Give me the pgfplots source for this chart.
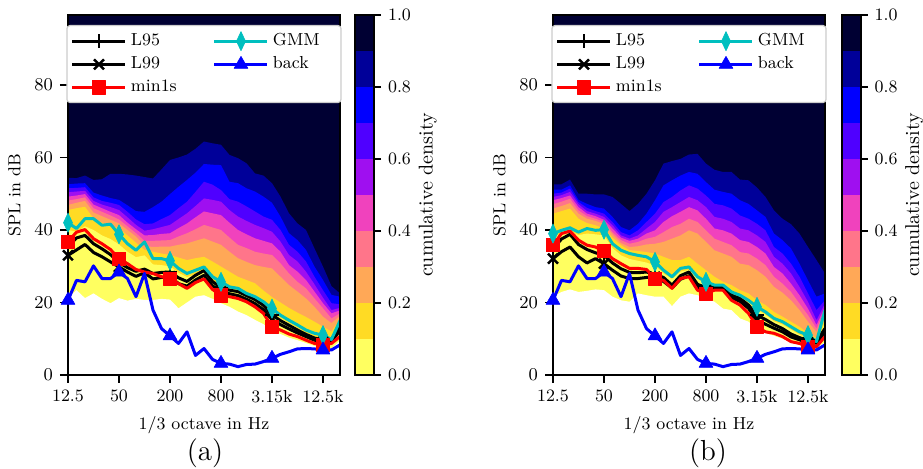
\documentclass[border=0pt]{standalone}
\usepackage{pgfplots}
\pgfplotsset{compat=1.18}
\usepackage{pgfplotstable}
\newcommand\fs{\fontsize{8.7}{10.4}\selectfont}
\definecolor{c0}{rgb}{1,1,0.375}
\definecolor{c1}{rgb}{1,0.86,0.14}
\definecolor{c2}{rgb}{1,0.66,0.34}
\definecolor{c3}{rgb}{1,0.46,0.54}
\definecolor{c4}{rgb}{0.94,0.26,0.74}
\definecolor{c5}{rgb}{0.625,0.06,0.94}
\definecolor{c6}{rgb}{0.31,0,1}
\definecolor{c7}{rgb}{0,0,1}
\definecolor{c8}{rgb}{0,0,0.6}
\definecolor{c9}{rgb}{0,0,0.2}
\definecolor{gmm}{rgb}{0,0.75,0.75}

% contour boundaries, panel (a)
\pgfplotstableread{
i B9 B8 B7 B6 B5 B4 B3 B2 B1 B0
0 54.4 52.6 51.5 50.4 49.2 48.1 46.9 45.5 40.0 21.2
1 54.3 52.8 51.6 50.6 49.5 48.5 47.5 46.0 39.5 23.4
2 55.0 52.9 51.8 50.8 49.9 49.0 48.0 46.4 41.0 21.2
3 53.8 50.3 49.0 48.0 47.0 46.0 44.8 43.2 40.0 22.5
4 54.0 49.5 48.0 47.0 46.0 45.0 43.8 42.0 38.5 21.0
5 55.5 48.8 47.5 46.3 45.0 44.0 42.8 41.2 37.5 19.8
6 55.5 48.3 46.9 45.5 44.1 42.9 41.8 40.5 36.0 21.2
7 55.3 46.8 45.0 43.5 42.0 41.0 40.0 38.5 34.0 20.5
8 55.0 45.2 42.9 41.4 40.2 39.1 38.2 36.5 32.5 21.0
9 54.6 45.0 41.6 39.8 38.5 37.0 35.6 34.5 33.0 20.7
10 54.2 46.3 41.8 40.2 38.6 37.0 35.3 34.0 30.5 20.7
11 56.7 47.8 43.0 40.8 38.9 37.1 35.4 33.5 30.3 21.0
12 59.3 49.9 44.1 41.4 39.1 37.2 35.4 33.1 30.0 20.8
13 60.0 51.9 46.0 43.0 40.5 38.2 35.9 32.4 28.2 18.4
14 60.8 53.8 47.8 44.6 41.8 39.1 36.3 31.7 27.0 20.0
15 62.4 55.8 50.5 46.6 43.5 40.2 37.0 32.2 27.8 21.6
16 64.4 58.2 53.3 48.7 45.1 41.4 37.7 32.6 28.5 22.0
17 63.9 58.0 52.5 48.3 44.6 40.7 36.8 31.3 26.0 21.0
18 63.5 57.9 51.0 47.8 44.1 40.0 35.9 29.9 24.7 19.8
19 60.7 53.3 48.5 45.5 42.0 37.9 34.0 28.5 23.4 18.8
20 59.8 52.9 47.8 43.7 40.0 35.9 32.2 27.1 23.0 17.5
21 58.4 51.5 46.5 42.5 38.8 35.0 31.2 26.2 21.6 16.5
22 55.6 50.6 45.1 41.4 37.7 34.0 30.3 25.3 20.7 15.2
23 55.0 49.2 43.7 40.5 37.0 33.5 29.8 23.3 19.3 14.0
24 52.9 47.5 42.8 39.5 36.3 33.1 29.4 21.5 17.5 12.2
25 49.2 43.7 40.0 36.8 34.0 30.8 27.1 20.0 15.7 11.3
26 44.6 39.1 35.9 33.1 30.3 28.0 24.8 18.5 14.3 10.3
27 41.8 37.2 34.0 31.3 28.5 25.7 23.0 17.2 13.0 9.6
28 40.0 34.5 31.3 28.5 26.2 23.9 21.1 16.0 11.6 8.8
29 34.9 29.9 27.1 25.0 23.0 21.1 18.8 14.7 10.7 8.0
30 29.9 26.2 23.4 21.3 19.8 18.4 16.1 13.3 9.7 7.3
31 24.5 22.1 19.8 17.9 17.0 15.6 14.3 12.0 8.5 7.3
32 22.5 21.6 19.5 18.5 17.8 17.0 16.3 15.5 13.5 9.5
}\CA

% contour boundaries, panel (b)
\pgfplotstableread{
i B9 B8 B7 B6 B5 B4 B3 B2 B1 B0
0 52.6 51.1 50.0 49.1 48.2 47.1 45.9 44.5 38.0 21.6
1 52.6 51.1 50.3 49.6 48.8 47.8 46.6 45.2 39.0 22.9
2 53.9 52.3 51.4 50.5 49.5 48.6 47.4 45.9 39.8 23.6
3 50.0 48.3 47.7 47.1 46.3 45.4 44.5 43.1 38.6 22.9
4 50.0 47.2 46.1 45.2 44.5 43.8 43.1 41.9 39.0 23.2
5 49.8 46.3 45.2 44.5 43.8 43.1 42.5 41.3 38.8 23.6
6 49.8 45.9 44.5 43.6 42.8 42.2 41.6 40.4 38.5 23.4
7 49.1 43.6 42.2 41.3 40.4 39.4 38.8 37.9 35.0 21.6
8 47.2 40.8 39.4 38.5 37.9 37.2 36.4 35.8 33.0 20.6
9 45.2 39.9 38.5 37.6 37.0 36.2 35.3 34.4 32.0 20.2
10 47.2 41.7 39.9 38.5 37.6 36.7 35.5 34.2 31.5 22.5
11 50.0 44.5 42.2 40.4 39.0 37.6 36.0 33.9 31.0 22.0
12 53.7 48.2 44.5 42.2 39.9 38.1 36.2 33.5 30.2 21.6
13 58.3 52.3 47.7 45.0 42.2 39.4 36.7 32.6 28.0 21.6
14 59.0 53.7 49.1 46.3 43.8 40.8 37.6 31.7 26.5 19.0
15 59.6 55.0 50.9 47.7 45.0 41.7 38.5 31.7 28.5 21.6
16 60.8 56.0 52.3 49.1 46.3 43.1 39.9 32.6 29.0 22.5
17 61.0 55.5 51.4 48.2 45.4 42.2 39.0 30.7 26.5 22.0
18 58.3 53.2 49.5 46.3 43.1 39.9 36.7 28.9 25.0 21.1
19 56.6 51.1 47.2 43.6 40.4 37.6 34.4 27.1 24.2 20.2
20 56.0 50.5 46.8 43.1 39.9 36.7 33.5 25.7 24.0 18.3
21 56.0 50.0 45.9 42.2 39.0 35.8 32.6 24.8 22.3 17.9
22 53.9 48.2 44.0 40.4 37.2 33.9 30.7 23.4 21.3 15.6
23 53.7 47.2 43.1 39.9 36.7 33.5 30.3 22.5 20.0 14.7
24 51.7 45.4 41.7 38.5 35.3 32.1 28.9 20.6 18.0 12.6
25 49.1 43.6 39.9 36.7 33.5 30.3 27.1 19.3 16.6 11.6
26 45.4 39.0 35.3 32.6 29.8 27.1 24.3 17.4 14.8 10.8
27 43.1 37.2 33.5 30.7 28.0 25.2 22.7 16.1 13.9 10.0
28 41.6 34.9 30.7 28.0 25.2 22.9 20.6 14.7 12.5 9.0
29 39.0 30.7 27.1 24.3 22.0 19.7 17.9 13.3 11.1 8.5
30 35.3 26.1 22.5 20.2 18.3 16.5 14.7 11.5 10.2 7.6
31 31.7 21.6 17.9 15.1 13.8 12.8 11.9 10.1 8.4 7.5
32 28.0 22.5 20.6 19.7 18.8 17.9 17.0 15.6 14.5 9.0
}\CB

% lines, panel (a)
\pgfplotstableread{
i L95 L99 min GMM back
0 35.5 33.0 36.8 42.0 20.6
1 37.8 34.5 39.4 40.4 26.1
2 38.5 36.0 40.1 43.1 25.7
3 36.2 33.8 37.6 43.1 30.1
4 34.8 32.6 36.2 41.3 26.6
5 33.2 31.2 34.6 41.6 26.6
6 31.0 29.8 32.1 38.8 28.4
7 29.6 28.4 30.7 36.2 26.6
8 28.6 27.2 29.1 34.4 21.6
9 29.2 28.2 28.4 36.7 28.0
10 28.0 26.5 28.0 32.1 17.9
11 28.3 26.9 27.1 32.1 12.8
12 28.4 27.2 26.6 31.5 10.8
13 26.8 25.2 25.2 29.4 8.7
14 25.8 24.5 23.9 28.0 11.9
15 27.5 26.2 25.5 28.9 5.4
16 28.8 27.5 26.5 29.8 7.3
17 25.8 24.6 23.6 27.1 4.3
18 24.0 23.0 22.0 25.7 3.2
19 23.4 22.4 21.6 24.3 3.0
20 23.0 21.9 21.1 23.9 2.3
21 21.9 20.9 20.2 22.5 2.9
22 20.8 19.7 18.8 21.6 3.0
23 19.2 18.0 17.0 20.2 3.7
24 16.6 15.3 13.3 18.3 4.6
25 15.0 13.9 12.4 16.5 5.7
26 13.7 12.7 11.3 15.1 6.4
27 12.4 11.6 10.6 13.8 7.2
28 11.2 10.6 9.6 12.4 7.3
29 10.2 9.6 8.7 11.5 7.2
30 9.6 9.1 8.3 11.0 6.9
31 9.9 9.3 8.7 9.8 6.9
32 13.2 12.2 10.6 15.0 8.3
}\LA

% lines, panel (b)
\pgfplotstableread{
i L95 L99 min GMM back
0 34.8 32.1 35.8 39.0 20.6
1 37.5 34.0 39.0 39.9 26.1
2 38.8 35.3 39.7 40.6 25.7
3 36.0 32.6 37.2 39.4 30.1
4 34.6 30.9 35.8 40.4 26.6
5 33.7 32.1 35.3 39.9 26.6
6 33.0 30.7 34.2 40.1 28.4
7 30.9 28.9 32.1 36.2 26.6
8 29.3 27.3 30.7 34.4 21.6
9 28.3 26.6 29.4 33.5 28.0
10 28.2 26.6 29.4 33.0 17.9
11 28.4 26.9 29.1 32.6 12.8
12 27.8 27.1 26.6 31.2 10.8
13 26.9 25.8 26.1 28.9 8.7
14 24.8 24.0 23.9 27.1 11.9
15 27.4 26.4 26.6 29.4 5.4
16 28.4 27.4 27.1 29.8 7.3
17 25.0 24.2 23.4 27.1 4.3
18 24.1 23.4 22.5 25.7 3.2
19 24.4 23.6 23.4 24.8 3.0
20 24.3 23.6 23.4 24.8 2.3
21 22.0 21.3 20.6 22.9 2.9
22 21.1 20.3 19.3 22.0 3.0
23 19.3 18.4 17.0 20.6 3.7
24 16.5 15.1 13.3 18.8 4.6
25 15.3 14.0 11.9 17.4 5.7
26 13.9 12.9 11.5 15.6 6.4
27 12.8 11.9 10.6 14.7 7.2
28 11.3 10.5 9.2 13.3 7.3
29 10.3 9.7 8.7 11.9 7.2
30 9.6 9.0 7.8 11.0 6.9
31 9.3 8.8 7.8 9.2 6.9
32 12.8 11.8 10.6 17.9 8.3
}\LB

\pgfplotsset{
  pl95/.style={black, line width=1.5pt, line join=round, mark=+, mark size=3.5pt, mark repeat=6, mark options={line width=1.2pt}},
  pl99/.style={black, line width=1.5pt, line join=round, mark=x, mark size=3.5pt, mark repeat=6, mark options={line width=1.2pt}},
  pmin/.style={red, line width=1.5pt, line join=round, mark=square*, mark size=3.3pt, mark repeat=6, mark options={line width=0.3pt}},
  pgmm/.style={gmm, line width=1.5pt, line join=round, mark=diamond*, mark size=3pt, mark repeat=6, mark options={line width=0.3pt, yscale=1.6}},
  pback/.style={blue, line width=1.5pt, line join=round, mark=triangle*, mark size=4pt, mark repeat=6, mark options={line width=0.3pt}},
  mainax/.style={
    anchor=south west, scale only axis, width=136pt, height=180pt,
    xmin=0, xmax=32, ymin=0, ymax=99.3,
    xtick={0,6,12,18,24,30}, xticklabels={12.5,50,200,800,3.15k,12.5k},
    ytick={0,20,40,60,80},
    tick align=outside, tick pos=left, major tick length=4pt,
    every tick/.style={black, line width=0.8pt},
    axis line style={line width=0.9pt},
    axis background/.style={fill=c9},
    tick label style={font=\fs},
    label style={font=\fs},
    xlabel={1/3 octave in Hz}, ylabel={SPL in dB},
    axis on top,
    legend columns=2,
    legend cell align=left,
    legend style={at={(0.5,1)}, anchor=north, yshift=-5pt, draw=black!20, line width=0.6pt,
      rounded corners=1.5pt, fill=white, font=\fs, inner xsep=2pt, inner ysep=2pt,
      row sep=0pt, /tikz/every even column/.append style={column sep=4pt}},
    legend image code/.code={\draw[mark repeat=2,mark phase=2,##1] plot coordinates {(0pt,0pt)(13.25pt,0pt)(26.5pt,0pt)};},
  },
  cbar/.style={
    anchor=south west, scale only axis, width=9.5pt, height=180pt,
    xmin=0, xmax=1, ymin=0, ymax=1, xtick=\empty,
    ytick={0,0.2,0.4,0.6,0.8,1}, yticklabels={0.0,0.2,0.4,0.6,0.8,1.0},
    ytick pos=right, yticklabel pos=right, tick align=outside, major tick length=3.5pt,
    every tick/.style={black, line width=0.8pt},
    axis line style={line width=0.9pt},
    tick label style={font=\fs}, label style={font=\fs},
    ylabel={cumulative density}, ylabel near ticks,
    ylabel style={yshift=3pt},
    axis on top,
  },
}

\newcommand\contourfill[1]{%
  \addplot[fill=c8, draw=none, forget plot] table[x=i, y=B9]{#1} \closedcycle;
  \addplot[fill=c7, draw=none, forget plot] table[x=i, y=B8]{#1} \closedcycle;
  \addplot[fill=c6, draw=none, forget plot] table[x=i, y=B7]{#1} \closedcycle;
  \addplot[fill=c5, draw=none, forget plot] table[x=i, y=B6]{#1} \closedcycle;
  \addplot[fill=c4, draw=none, forget plot] table[x=i, y=B5]{#1} \closedcycle;
  \addplot[fill=c3, draw=none, forget plot] table[x=i, y=B4]{#1} \closedcycle;
  \addplot[fill=c2, draw=none, forget plot] table[x=i, y=B3]{#1} \closedcycle;
  \addplot[fill=c1, draw=none, forget plot] table[x=i, y=B2]{#1} \closedcycle;
  \addplot[fill=c0, draw=none, forget plot] table[x=i, y=B1]{#1} \closedcycle;
  \addplot[fill=white, draw=none, forget plot] table[x=i, y=B0]{#1} \closedcycle;
}
\newcommand\linesplot[1]{%
  \addplot[pl95, forget plot] table[x=i, y=L95]{#1};
  \addplot[pl99, forget plot] table[x=i, y=L99]{#1};
  \addplot[pmin, forget plot] table[x=i, y=min]{#1};
  \addplot[pgmm, forget plot] table[x=i, y=GMM]{#1};
  \addplot[pback, forget plot] table[x=i, y=back]{#1};
  \addlegendimage{pl95}\addlegendentry{\makebox[35pt][l]{L95}}
  \addlegendimage{pgmm}\addlegendentry{\makebox[30pt][l]{GMM}}
  \addlegendimage{pl99}\addlegendentry{\makebox[35pt][l]{L99}}
  \addlegendimage{pback}\addlegendentry{\makebox[30pt][l]{back}}
  \addlegendimage{pmin}\addlegendentry{\makebox[35pt][l]{min1s}}
}
\newcommand\cbarfill{%
  \addplot[fill=c9, draw=none] coordinates {(0,1)(1,1)} \closedcycle;
  \addplot[fill=c8, draw=none] coordinates {(0,0.9)(1,0.9)} \closedcycle;
  \addplot[fill=c7, draw=none] coordinates {(0,0.8)(1,0.8)} \closedcycle;
  \addplot[fill=c6, draw=none] coordinates {(0,0.7)(1,0.7)} \closedcycle;
  \addplot[fill=c5, draw=none] coordinates {(0,0.6)(1,0.6)} \closedcycle;
  \addplot[fill=c4, draw=none] coordinates {(0,0.5)(1,0.5)} \closedcycle;
  \addplot[fill=c3, draw=none] coordinates {(0,0.4)(1,0.4)} \closedcycle;
  \addplot[fill=c2, draw=none] coordinates {(0,0.3)(1,0.3)} \closedcycle;
  \addplot[fill=c1, draw=none] coordinates {(0,0.2)(1,0.2)} \closedcycle;
  \addplot[fill=c0, draw=none] coordinates {(0,0.1)(1,0.1)} \closedcycle;
}

\begin{document}
\begin{tikzpicture}
\useasboundingbox (0,0) rectangle (461.5pt,234.5pt);
% panel (a)
\begin{axis}[mainax, at={(34pt,47pt)}]
  \contourfill{\CA}
  \linesplot{\LA}
\end{axis}
\begin{axis}[cbar, at={(177.5pt,47pt)}]
  \cbarfill
\end{axis}
% panel (b)
\begin{axis}[mainax, at={(276.5pt,47pt)}]
  \contourfill{\CB}
  \linesplot{\LB}
\end{axis}
\begin{axis}[cbar, at={(420.8pt,47pt)}]
  \cbarfill
\end{axis}
\node[font=\fontsize{14.5}{17}\selectfont] at (102.5pt,8pt) {(a)};
\node[font=\fontsize{14.5}{17}\selectfont] at (354pt,8pt) {(b)};
\end{tikzpicture}
\end{document}
